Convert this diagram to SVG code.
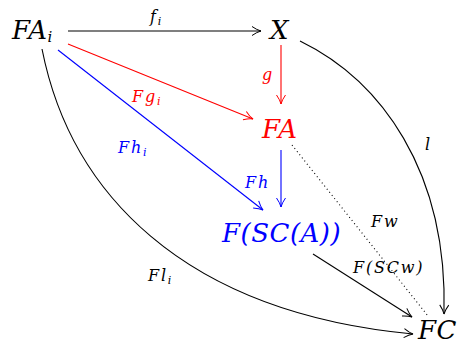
<svg xmlns="http://www.w3.org/2000/svg" width="457" height="345" viewBox="0 0 457 345">
<defs>
<marker id="ak" markerWidth="12" markerHeight="12" refX="10" refY="6" orient="auto" markerUnits="userSpaceOnUse"><path d="M1,1.5 Q6,5 10,6 Q6,7 1,10.5" fill="none" stroke="#000" stroke-width="1"/></marker>
<marker id="ar" markerWidth="12" markerHeight="12" refX="10" refY="6" orient="auto" markerUnits="userSpaceOnUse"><path d="M1,1.5 Q6,5 10,6 Q6,7 1,10.5" fill="none" stroke="#f00" stroke-width="1"/></marker>
<marker id="ab" markerWidth="12" markerHeight="12" refX="10" refY="6" orient="auto" markerUnits="userSpaceOnUse"><path d="M1,1.5 Q6,5 10,6 Q6,7 1,10.5" fill="none" stroke="#00f" stroke-width="1"/></marker>
</defs>
<style>
text{font-family:"DejaVu Serif","Liberation Serif",serif;font-style:italic}
.n{font-size:26px;letter-spacing:0.5px}
.l{font-size:16px;letter-spacing:1.8px}
.s{font-size:11px}
.k{fill:#000}.r{fill:#f00}.b{fill:#00f}
.e{fill:none;stroke-width:1.1}
</style>
<g id="connectors">
<path class="e" stroke="#000" d="M68,31 H261" marker-end="url(#ak)"/>
<path class="e" stroke="#f00" d="M281,45 V104" marker-end="url(#ar)"/>
<path class="e" stroke="#f00" d="M68,44 L253,119" marker-end="url(#ar)"/>
<path class="e" stroke="#00f" d="M58,50 L263,210" marker-end="url(#ab)"/>
<path class="e" stroke="#00f" d="M281,150 V207" marker-end="url(#ab)"/>
<path class="e" stroke="#000" stroke-dasharray="1,3" d="M292,145 L428,316"/>
<path class="e" stroke="#000" d="M313,254 L412,317" marker-end="url(#ak)"/>
<path class="e" stroke="#000" d="M300,41 C380,80 448,170 444,314" marker-end="url(#ak)"/>
<path class="e" stroke="#000" d="M42,49 C70,190 180,312 413,334" marker-end="url(#ak)"/>
<text class="l k" x="150" y="22">f<tspan class="s" dy="3">i</tspan></text>
<text class="l r" x="262" y="80">g</text>
<text class="l r" x="132" y="102">Fg<tspan class="s" dy="3">i</tspan></text>
<text class="l b" x="118" y="153">Fh<tspan class="s" dy="3">i</tspan></text>
<text class="l b" x="245" y="188">Fh</text>
<text class="l k" x="371" y="227">Fw</text>
<text class="l k" x="353" y="273">F(SCw)</text>
<text class="l k" x="425" y="150">l</text>
<text class="l k" x="148" y="281">Fl<tspan class="s" dy="3">i</tspan></text>
</g>
<g id="FAi"><text class="n k" x="12" y="39">FA<tspan font-size="15" dy="3">i</tspan></text></g>
<g id="X"><text class="n k" x="270" y="39">X</text></g>
<g id="FA"><text class="n r" x="262" y="138">FA</text></g>
<g id="FSCA"><text class="n b" x="222" y="242">F(SC(A))</text></g>
<g id="FC"><text class="n k" x="418" y="339" letter-spacing="0">FC</text></g>
</svg>
